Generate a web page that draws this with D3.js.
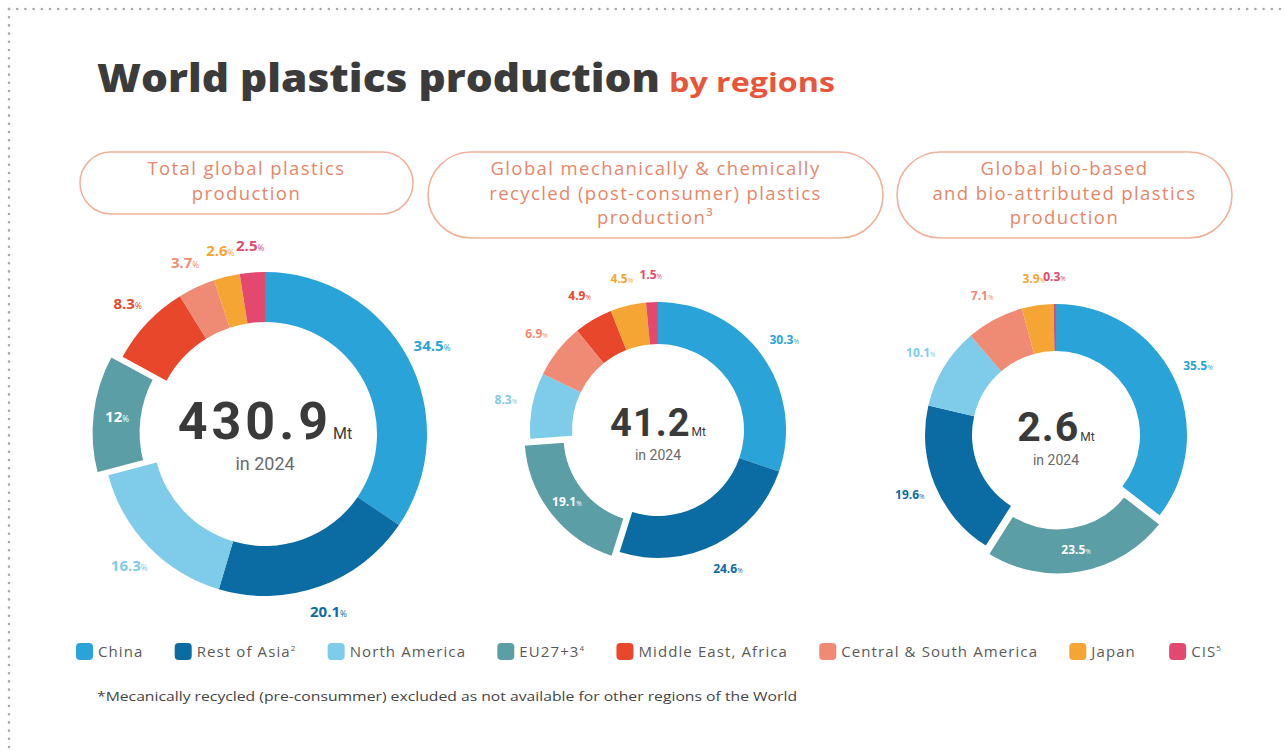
<!DOCTYPE html>
<html>
<head>
<meta charset="utf-8">
<script src="https://cdn.jsdelivr.net/npm/d3@7"></script>
<style>
  body { margin: 0; background: #fff; }
  svg { display: block; font-family: "Open Sans", sans-serif; }
</style>
</head>
<body>
<svg id="chart" width="1286" height="751"></svg>
<script>
// regions in legend order
var regions = ["China", "Rest of Asia", "North America", "EU27+3", "Middle East, Africa",
               "Central & South America", "Japan", "CIS"];
var regionNotes = ["", "2", "", "4", "", "", "", "5"];

// shares (%) per region, same order as regions; null = not reported
var totalShare    = [34.5, 20.1, 16.3, 12, 8.3, 3.7, 2.6, 2.5];
var recycledShare = [30.3, 24.6, 8.3, 19.1, 4.9, 6.9, 4.5, 1.5];
var bioShare      = [35.5, 19.6, 10.1, 23.5, null, 7.1, 3.9, 0.3];

var totals = ["430.9", "41.2", "2.6"];
var unit = "Mt";
var yearLabel = "in 2024";

var panelTitles = [
  ["Total global plastics", "production"],
  ["Global mechanically & chemically", "recycled (post-consumer) plastics", "production\u00b3"],
  ["Global bio-based", "and bio-attributed plastics", "production"]
];
var explodedRegion = "EU27+3";
var footnote = "*Mecanically recycled (pre-consummer) excluded as not available for other regions of the World";

var svg = d3.select("#chart");

var color = d3.scaleOrdinal()
  .domain(regions)
  .range(["#2aa3d8", "#0b6ca3", "#7fcbea", "#5b9ea6", "#e8472c", "#ef8a74", "#f4a534", "#e3496e"]);

// dotted frame (top and left only)
svg.append("line").attr("x1", 9).attr("y1", 9).attr("x2", 1286).attr("y2", 9)
  .attr("stroke", "#a8a8a8").attr("stroke-width", 2.6)
  .attr("stroke-dasharray", "0 8.2").attr("stroke-linecap", "round");
svg.append("line").attr("x1", 9).attr("y1", 9).attr("x2", 9).attr("y2", 751)
  .attr("stroke", "#a8a8a8").attr("stroke-width", 2.6)
  .attr("stroke-dasharray", "0 8.2").attr("stroke-linecap", "round");

// title
svg.append("text")
  .attr("x", 97).attr("y", 92)
  .attr("font-size", 38).attr("font-weight", 800)
  .attr("fill", "#3b3b3b")
  .attr("textLength", 563).attr("lengthAdjust", "spacingAndGlyphs")
  .text("World plastics production");
svg.append("text")
  .attr("x", 669).attr("y", 92)
  .attr("font-size", 27).attr("font-weight", 700)
  .attr("fill", "#e8553a")
  .attr("textLength", 166).attr("lengthAdjust", "spacingAndGlyphs")
  .text("by regions");

// panel layout
var panels = [
  {cx: 265,  cy: 434, outer: 162, inner: 112, explode: 12, box: {x: 80,  y: 152, w: 333, h: 62},
   numSize: 52, unitSize: 16, yearSize: 18, numY: 439, yearY: 470, labelSize: 15, spacing: 4},
  {cx: 658,  cy: 430, outer: 128, inner: 86,  explode: 9,  box: {x: 428, y: 152, w: 455, h: 86},
   numSize: 38, unitSize: 12, yearSize: 14, numY: 436, yearY: 460, labelSize: 12, spacing: 1},
  {cx: 1056, cy: 435, outer: 131, inner: 84,  explode: 9,  box: {x: 897, y: 152, w: 335, h: 86},
   numSize: 41, unitSize: 12, yearSize: 14, numY: 441, yearY: 465, labelSize: 12, spacing: 1}
];
var shares = [totalShare, recycledShare, bioShare];

var pie = d3.pie()
  .value(d => d.value)
  .sort((a, b) => b.value - a.value);

panels.forEach((p, i) => {
  // header pill
  var b = p.box;
  svg.append("rect")
    .attr("x", b.x).attr("y", b.y).attr("width", b.w).attr("height", b.h)
    .attr("rx", b.h / 2).attr("ry", b.h / 2)
    .attr("fill", "none").attr("stroke", "#f0b29b").attr("stroke-width", 1.6);
  svg.append("g").selectAll("text")
    .data(panelTitles[i])
    .enter().append("text")
    .attr("x", b.x + b.w / 2)
    .attr("y", (d, j) => b.y + 23 + j * 24.5)
    .attr("text-anchor", "middle")
    .attr("font-size", 18.5).attr("font-weight", 500)
    .attr("letter-spacing", 1.4)
    .attr("fill", "#e5876a")
    .text(d => d);

  // donut
  var data = regions.map((r, j) => ({region: r, value: shares[i][j]}))
    .filter(d => d.value != null);
  var arcs = pie(data);
  var arc = d3.arc().innerRadius(p.inner).outerRadius(p.outer);
  var labelArc = d3.arc().innerRadius(p.outer + 27).outerRadius(p.outer + 27);

  var g = svg.append("g").attr("transform", `translate(${p.cx}, ${p.cy})`);

  function shift(d) {
    if (d.data.region != explodedRegion) return [0, 0];
    var mid = (d.startAngle + d.endAngle) / 2;
    return [Math.sin(mid) * p.explode, -Math.cos(mid) * p.explode];
  }

  g.selectAll("path")
    .data(arcs)
    .enter().append("path")
    .attr("d", arc)
    .attr("transform", d => `translate(${shift(d)})`)
    .attr("fill", d => color(d.data.region))
    .attr("stroke", d => d.data.region == explodedRegion ? "#fff" : "none")
    .attr("stroke-width", 3);

  var labels = g.selectAll("text.lbl")
    .data(arcs)
    .enter().append("text")
    .attr("class", "lbl")
    .attr("transform", d => {
      var c = d.data.region == explodedRegion ? arc.centroid(d) : labelArc.centroid(d);
      var s = shift(d);
      return `translate(${c[0] + s[0]}, ${c[1] + s[1]})`;
    })
    .attr("dy", "0.35em")
    .attr("text-anchor", "middle")
    .attr("font-size", p.labelSize).attr("font-weight", 700)
    .attr("fill", d => d.data.region == explodedRegion ? "#fff" : color(d.data.region));
  labels.append("tspan").text(d => d.data.value);
  labels.append("tspan").attr("font-size", p.labelSize * 0.55).attr("font-weight", 400).text("%");

  // centre text
  var num = g.append("text")
    .attr("y", p.numY - p.cy)
    .attr("text-anchor", "middle")
    .attr("fill", "#3a3a3a")
    .attr("font-family", "Roboto, sans-serif");
  num.append("tspan").attr("font-size", p.numSize).attr("font-weight", 700)
    .attr("letter-spacing", p.spacing).text(totals[i]);
  num.append("tspan").attr("font-size", p.unitSize).attr("font-weight", 400)
    .attr("dx", 1).text(unit);
  g.append("text")
    .attr("y", p.yearY - p.cy)
    .attr("text-anchor", "middle")
    .attr("font-family", "Roboto, sans-serif")
    .attr("font-size", p.yearSize)
    .attr("fill", "#6a6a6a")
    .text(yearLabel);
});

// legend
var legend = svg.append("g");
var items = legend.selectAll("g")
  .data(regions)
  .enter().append("g");
items.append("rect")
  .attr("width", 17).attr("height", 17).attr("rx", 4)
  .attr("y", 643)
  .attr("fill", d => color(d));
var ltext = items.append("text")
  .attr("x", 22).attr("y", 657)
  .attr("font-size", 15).attr("letter-spacing", 1.1)
  .attr("fill", "#5a5a5a");
ltext.append("tspan").text(d => d);
ltext.append("tspan")
  .attr("font-size", 8).attr("dy", -6)
  .text((d, j) => regionNotes[j]);

var widths = [];
ltext.each(function () { widths.push(this.getBBox().width + 22); });
var legendStart = 76, legendEnd = 1222;
var gap = (legendEnd - legendStart - d3.sum(widths)) / (regions.length - 1);
var xpos = legendStart;
items.attr("transform", (d, j) => {
  var x = xpos;
  xpos += widths[j] + gap;
  return `translate(${x}, 0)`;
});

// footnote
svg.append("text")
  .attr("x", 97).attr("y", 701)
  .attr("font-size", 12)
  .attr("fill", "#444")
  .attr("textLength", 700)
  .attr("lengthAdjust", "spacingAndGlyphs")
  .text(footnote);
</script>
</body>
</html>
